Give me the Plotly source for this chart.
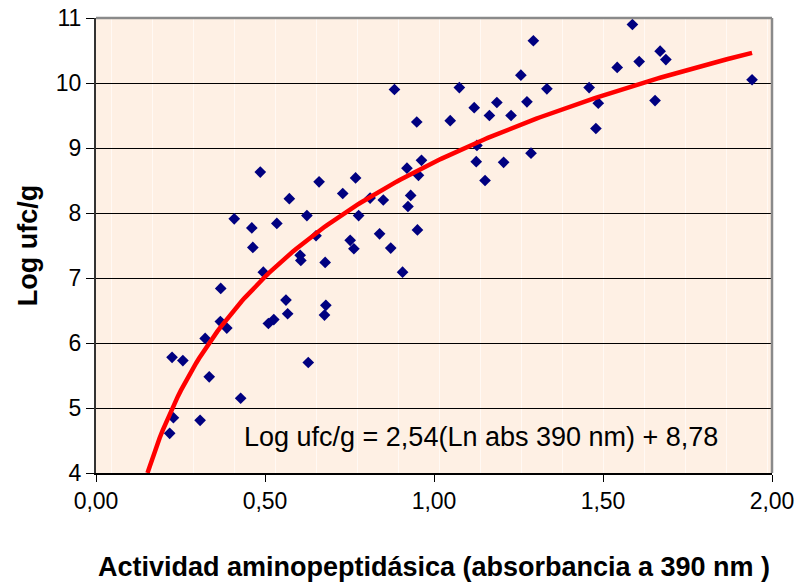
import numpy as np
import plotly.graph_objects as go

# Aminopeptidase activity (absorbance at 390 nm) vs. log CFU/g
absorbancia = [
    0.218, 0.229, 0.225, 0.257, 0.308, 0.335, 0.323, 0.369, 0.368, 0.387,
    0.409, 0.428, 0.461, 0.464, 0.486, 0.495, 0.510, 0.526, 0.535, 0.562,
    0.567, 0.572, 0.604, 0.606, 0.624, 0.628, 0.651, 0.660, 0.678, 0.680,
    0.676, 0.730, 0.752, 0.763, 0.768, 0.777, 0.811, 0.839, 0.850, 0.872,
    0.883, 0.907, 0.920, 0.923, 0.931, 0.949, 0.954, 0.951, 0.963, 1.048,
    1.075, 1.119, 1.127, 1.125, 1.151, 1.164, 1.186, 1.206, 1.228, 1.257,
    1.275, 1.287, 1.294, 1.334, 1.459, 1.486, 1.479, 1.542, 1.587, 1.607,
    1.654, 1.669, 1.686, 1.941,
]
log_ufc = [
    4.61, 4.85, 5.78, 5.73, 4.81, 5.48, 6.07, 6.84, 6.33, 6.23,
    7.91, 5.15, 7.77, 7.47, 8.63, 7.09, 6.30, 6.36, 7.84, 6.66,
    6.45, 8.22, 7.35, 7.27, 7.96, 5.70, 7.65, 8.48, 7.24, 6.58,
    6.43, 8.30, 7.58, 7.45, 8.54, 7.96, 8.23, 7.68, 8.20, 7.46,
    9.90, 7.09, 8.69, 8.10, 8.27, 9.40, 8.58, 7.74, 8.81, 9.42,
    9.93, 9.62, 9.04, 8.79, 8.50, 9.50, 9.70, 8.78, 9.50, 10.12,
    9.71, 8.92, 10.65, 9.91, 9.93, 9.69, 9.30, 10.24, 10.90, 10.33,
    9.73, 10.49, 10.36, 10.05,
]

# Logarithmic fit: Log ufc/g = a * ln(abs) + b
coef_a = 2.54
coef_b = 8.78
y_min, y_max = 4, 11
x_ticks = [0.0, 0.5, 1.0, 1.5, 2.0]
x_tick_text = ["0,00", "0,50", "1,00", "1,50", "2,00"]
y_ticks = [4, 5, 6, 7, 8, 9, 10, 11]

x_start = float(np.exp((y_min - coef_b) / coef_a))
x_fit = np.linspace(x_start, max(absorbancia), 200)
y_fit = coef_a * np.log(x_fit) + coef_b

font_family = "Liberation Sans, Arial, sans-serif"

fig = go.Figure()
fig.add_trace(go.Scatter(
    x=absorbancia, y=log_ufc, mode="markers",
    marker=dict(symbol="diamond", size=9, color="#000080",
                line=dict(width=0)),
    showlegend=False, hoverinfo="skip",
))
fig.add_trace(go.Scatter(
    x=x_fit, y=y_fit, mode="lines",
    line=dict(color="#FF0000", width=4.5),
    showlegend=False, hoverinfo="skip",
))

fig.add_annotation(
    x=1.14, y=4.56, xref="x", yref="y",
    text="Log ufc/g = 2,54(Ln abs 390 nm) + 8,78",
    showarrow=False, font=dict(family=font_family, size=27, color="#000"),
)

# Plot frame: grey top and right edges
fig.add_shape(type="line", xref="paper", yref="paper", x0=0, x1=1, y0=1, y1=1,
              line=dict(color="#8a8a8a", width=2.5), layer="above")
fig.add_shape(type="line", xref="paper", yref="paper", x0=1, x1=1, y0=0, y1=1,
              line=dict(color="#8a8a8a", width=2.5), layer="above")

fig.update_layout(
    width=798, height=587,
    margin=dict(l=96, r=26, t=18, b=114),
    paper_bgcolor="white",
    plot_bgcolor="#FEF0E4",
    font=dict(family=font_family, color="#000"),
    xaxis=dict(
        range=[0, 2], tickvals=x_ticks, ticktext=x_tick_text,
        automargin=False,
        showgrid=False, zeroline=False,
        showline=True, linecolor="#000", linewidth=1.5,
        ticks="outside", ticklen=7, tickcolor="#000", tickwidth=1,
        tickfont=dict(size=23),
        minor=dict(showgrid=True, gridcolor="#FFF9F4", gridwidth=1,
                   tick0=0.0455, dtick=0.1213, ticks=""),
        title=dict(text="<b>Actividad aminopeptidásica (absorbancia a 390 nm )</b>",
                   font=dict(size=27), standoff=44),
    ),
    yaxis=dict(
        range=[y_min, y_max], tickvals=y_ticks,
        automargin=False,
        showgrid=True, gridcolor="#000", gridwidth=1,
        zeroline=False,
        showline=True, linecolor="#333", linewidth=2,
        ticks="outside", ticklen=8, tickcolor="#000", tickwidth=1,
        tickfont=dict(size=23),
        title=dict(text="<b>Log ufc/g</b>", font=dict(size=27), standoff=10),
    ),
)

fig.write_html("out.html")
